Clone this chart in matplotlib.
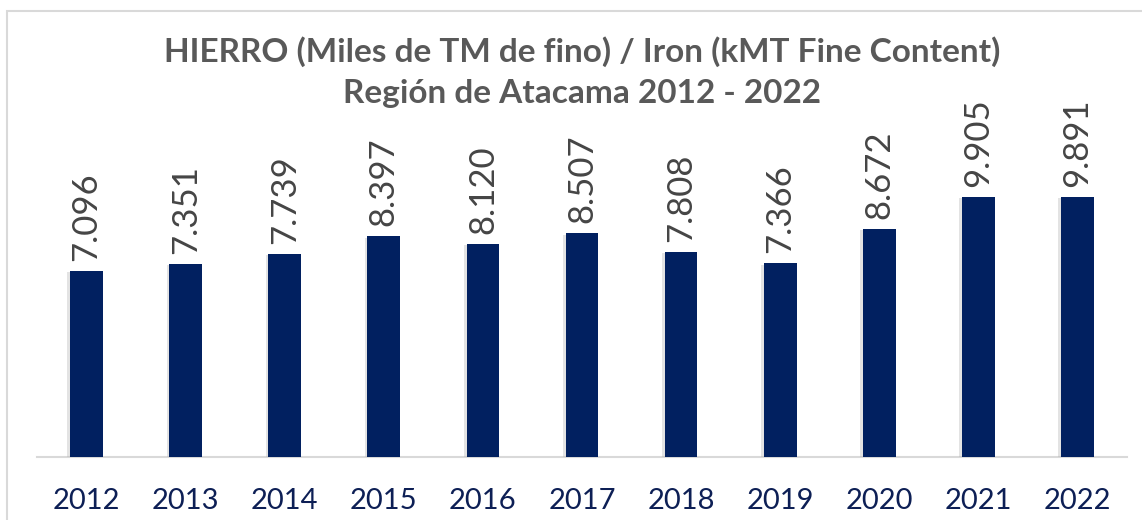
import matplotlib
matplotlib.use("Agg")
from matplotlib import pyplot as plt
from matplotlib.patches import Rectangle
import matplotlib.patheffects as pe

years = ["2012", "2013", "2014", "2015", "2016", "2017", "2018", "2019", "2020", "2021", "2022"]
values = [7096, 7351, 7739, 8397, 8120, 8507, 7808, 7366, 8672, 9905, 9891]
value_labels = ["7.096", "7.351", "7.739", "8.397", "8.120", "8.507", "7.808", "7.366", "8.672", "9.905", "9.891"]

W, H, DPI = 1142, 520, 100
BAR_COLOR = "#012060"
LABEL_COLOR = "#454545"
TICK_COLOR = "#0d1f55"
TITLE_COLOR = "#595959"

fig = plt.figure(figsize=(W / DPI, H / DPI), dpi=DPI)

# outer chart frame (light gray, runs off the right/bottom edge)
fig.patches.append(
    Rectangle((7 / W, -0.1), 1.2, 1 - 11 / H + 0.1, transform=fig.transFigure,
              fill=False, edgecolor="#d9d9d9", linewidth=1.5)
)

# axes placed by pixel: baseline at y=457, x from 37 to 1127
ax_left, ax_right = 37, 1127
ax_base, ax_top = 457, 60
ax = fig.add_axes([ax_left / W, (H - ax_base) / H, (ax_right - ax_left) / W, (ax_base - ax_top) / H])

px_per_unit = 260.3 / 9905
x = list(range(len(years)))
bars = ax.bar(x, values, width=0.33, color=BAR_COLOR, zorder=3)
for b in bars:
    b.set_path_effects([pe.SimplePatchShadow(offset=(-2, -1), shadow_rgbFace="#b0b0b0", alpha=0.35), pe.Normal()])

ax.set_xlim(-0.5, len(years) - 0.5)
ax.set_ylim(0, (ax_base - ax_top) / px_per_unit)

for xi, v, lab in zip(x, values, value_labels):
    ax.annotate(lab, (xi, v), xytext=(0, 10), textcoords="offset pixels",
                rotation=90, ha="center", va="bottom", fontsize=25,
                color=LABEL_COLOR, family="Lato")

ax.set_xticks(x)
ax.set_xticklabels(years, fontsize=21, color=TICK_COLOR, family="Lato")
ax.tick_params(axis="x", length=0, pad=22)
ax.set_yticks([])
for s in ["top", "right", "left"]:
    ax.spines[s].set_visible(False)
ax.spines["bottom"].set_color("#d9d9d9")
ax.spines["bottom"].set_linewidth(1.5)

fig.text(582 / W, 1 - 52 / H, "HIERRO (Miles de TM de fino) / Iron (kMT Fine Content)",
         ha="center", va="center", fontsize=24, fontweight="bold", color=TITLE_COLOR, family="Lato")
fig.text(582 / W, 1 - 93 / H, "Región de Atacama 2012 - 2022",
         ha="center", va="center", fontsize=24, fontweight="bold", color=TITLE_COLOR, family="Lato")

fig.savefig("out.png", dpi=DPI)
